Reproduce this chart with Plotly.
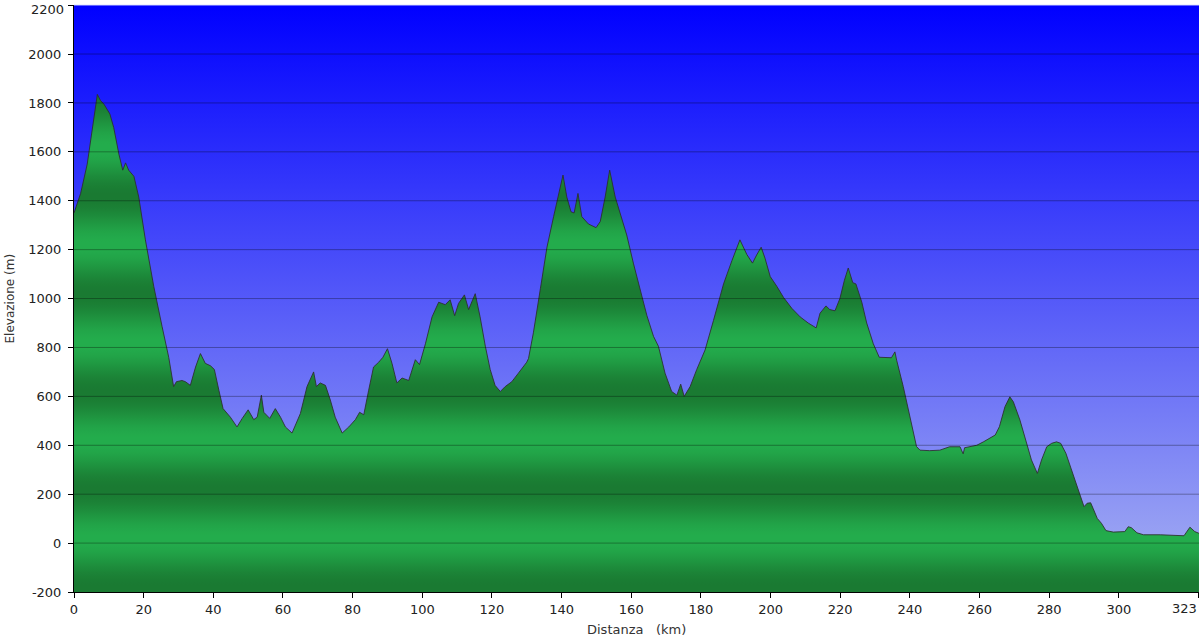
import base64
import math
import plotly.graph_objects as go

# ---- data ----
distance_km = [0.0, 1.9, 3.8, 5.2, 6.7, 7.6, 8.6, 10.3, 11.4, 12.9, 14.0, 14.8, 15.7, 17.2, 18.6,
               20.5, 22.9, 25.3, 27.2, 28.6, 29.4, 31.0, 32.0, 33.4, 34.9, 36.3, 37.7, 39.2, 40.3,
               41.6, 42.8, 44.9, 46.8, 48.3, 50.0, 51.6, 52.6, 53.8, 54.5, 56.2, 57.8, 59.3, 60.7,
               62.6, 64.0, 65.0, 66.9, 68.8, 69.6, 70.7, 72.2, 73.6, 75.0, 77.0, 78.9, 80.8, 82.0,
               83.2, 84.6, 86.0, 87.5, 88.7, 90.0, 91.3, 92.7, 94.2, 96.1, 98.0, 99.2, 100.9, 102.8,
               104.7, 106.6, 108.0, 109.3, 110.4, 112.1, 113.3, 115.2, 116.6, 118.1, 119.5, 120.9,
               122.4, 123.8, 125.7, 127.6, 130.0, 130.5, 131.9, 133.9, 135.8, 137.7, 140.4, 141.5,
               142.7, 143.6, 144.7, 145.8, 147.7, 149.9, 151.1, 152.5, 153.8, 155.4, 156.8, 158.7,
               160.6, 162.6, 164.5, 166.4, 167.8, 169.7, 171.6, 173.1, 174.2, 175.2, 176.9, 178.8,
               181.2, 183.6, 186.5, 188.9, 191.2, 193.2, 194.8, 196.0, 197.3, 198.4, 199.9, 201.8,
               203.7, 206.1, 208.5, 210.8, 213.1, 214.2, 215.9, 217.0, 218.5, 219.9, 221.2, 222.3,
               223.6, 224.5, 226.2, 227.6, 229.5, 231.2, 233.3, 234.7, 235.7, 236.2, 238.1, 240.0,
               241.9, 242.9, 245.7, 248.6, 251.4, 254.4, 255.3, 255.7, 257.3, 259.2, 261.1, 263.0,
               264.5, 265.7, 267.3, 268.7, 269.7, 271.6, 273.5, 274.9, 276.6, 277.8, 279.3, 280.7,
               282.1, 283.3, 284.8, 286.4, 288.3, 290.0, 290.9, 291.9, 292.6, 293.8, 295.0, 296.3,
               298.4, 301.7, 302.7, 303.6, 305.2, 307.1, 311.9, 315.7, 318.7, 320.4, 321.8, 323.0]

elevation_m = [1350, 1430, 1550, 1690, 1835, 1810, 1795, 1755, 1700, 1590, 1525, 1555, 1525, 1500, 1415,
               1240, 1050, 885, 760, 640, 660, 665, 660, 645, 720, 775, 735, 725, 710,
               625, 550, 515, 475, 510, 545, 505, 515, 605, 535, 510, 550, 515, 475,
               450, 500, 530, 640, 700, 640, 655, 645, 585, 515, 450, 475, 505, 535,
               525, 625, 720, 740, 760, 795, 735, 655, 675, 665, 750, 730, 815, 925,
               985, 975, 995, 930, 980, 1015, 955, 1020, 925, 805, 710, 645,
               620, 640, 660, 695, 740, 755, 860, 1040, 1210, 1335, 1505, 1415,
               1355, 1350, 1430, 1335, 1305, 1290, 1315, 1415, 1525, 1415, 1350, 1260,
               1145, 1035, 930, 845, 805, 695, 620, 605, 650, 600, 640, 710,
               790, 910, 1060, 1155, 1240, 1180, 1145, 1178, 1210, 1165, 1090, 1050,
               1005, 960, 925, 900, 880, 940, 970, 955, 950, 1000, 1075, 1125,
               1065, 1060, 985, 900, 815, 760, 760, 758, 782, 748, 640, 515,
               395, 380, 378, 380, 394, 394, 365, 390, 394, 400, 414, 428,
               442, 476, 558, 598, 578, 503, 408, 340, 285, 340, 394, 408,
               414, 408, 367, 299, 217, 149, 163, 165, 142, 101, 81, 51,
               45, 47, 67, 63, 42, 34, 34, 32, 30, 65, 47, 40]

x_tick_values = [0, 20, 40, 60, 80, 100, 120, 140, 160, 180, 200, 220, 240, 260, 280, 300]
x_end_label = "323"
y_tick_values = [-200, 0, 200, 400, 600, 800, 1000, 1200, 1400, 1600, 1800, 2000, 2200]

X_MIN, X_MAX = 0, 323
Y_MIN, Y_MAX = -200, 2200

# ---- styles ----
FONT = "DejaVu Sans"
LIGHT_GREEN = (35, 172, 76)
DARK_GREEN = (26, 122, 50)
BAND_PERIOD = 400.0
BAND_LIGHT_AT = 20.0

def green_at(e):
    f = (1 - math.cos(2 * math.pi * (e - BAND_LIGHT_AT) / BAND_PERIOD)) / 2
    c = [round(LIGHT_GREEN[i] + (DARK_GREEN[i] - LIGHT_GREEN[i]) * f) for i in range(3)]
    return f"rgb({c[0]},{c[1]},{c[2]})"

n_steps = 240
green_scale = []
for i in range(n_steps + 1):
    e = Y_MIN + (Y_MAX - Y_MIN) * i / n_steps
    green_scale.append([i / n_steps, green_at(e)])

svg = ('<svg xmlns="http://www.w3.org/2000/svg" width="10" height="100" preserveAspectRatio="none">'
       '<defs><linearGradient id="g" x1="0" y1="0" x2="0" y2="1">'
       '<stop offset="0" stop-color="#0000ff"/>'
       '<stop offset="1" stop-color="rgb(168,178,242)"/>'
       '</linearGradient></defs><rect width="10" height="100" fill="url(#g)"/></svg>')
bg_src = "data:image/svg+xml;base64," + base64.b64encode(svg.encode()).decode()

fig = go.Figure()
fig.add_trace(go.Scatter(
    x=distance_km, y=[Y_MIN] * len(distance_km), mode="lines",
    line=dict(width=0, color="rgba(0,0,0,0)"), hoverinfo="skip", showlegend=False))
fig.add_trace(go.Scatter(
    x=distance_km, y=elevation_m, mode="lines", fill="tonexty",
    line=dict(color="rgba(45,45,45,0.85)", width=1),
    fillgradient=dict(type="vertical", colorscale=green_scale, start=Y_MIN, stop=Y_MAX),
    showlegend=False, name="Elevazione"))

shapes = [dict(type="line", xref="paper", x0=0, x1=1, yref="y", y0=v, y1=v,
               line=dict(color="rgba(0,0,0,0.32)", width=1), layer="above")
          for v in y_tick_values if Y_MIN < v < Y_MAX]
shapes.append(dict(type="line", xref="paper", x0=0, x1=1, yref="paper", y0=1, y1=1,
                   line=dict(color="rgba(220,225,255,0.9)", width=1), layer="above"))

TICK_LEN = 5
LABEL_GAP = 4
y_tick_text = [str(v) if v != Y_MAX else "" for v in y_tick_values]

ML, MR, MT, MB = 74, 1, 5, 47
fig.update_layout(
    width=1200, height=639,
    margin=dict(l=ML, r=MR, t=MT, b=MB, autoexpand=False),
    paper_bgcolor="white", plot_bgcolor="#5560f8",
    font=dict(family=FONT, size=13, color="#222222"),
    images=[dict(source=bg_src, xref="paper", yref="paper", x=0, y=1, sizex=1, sizey=1,
                 sizing="stretch", layer="below", xanchor="left", yanchor="top")],
    shapes=shapes,
    xaxis=dict(range=[X_MIN, X_MAX + 0.01], tickvals=x_tick_values + [X_MAX],
               ticktext=[str(v) for v in x_tick_values] + [""],
               ticks="outside", ticklen=TICK_LEN, tickcolor="black", showline=True,
               linecolor="black", linewidth=1, showgrid=False, zeroline=False,
               fixedrange=True, ticklabeloverflow="allow", automargin=False),
    yaxis=dict(range=[Y_MIN, Y_MAX + 0.5], tickvals=y_tick_values, ticktext=y_tick_text,
               ticks="outside", ticklen=TICK_LEN, tickcolor="black", showline=True,
               linecolor="black", linewidth=1, showgrid=False, zeroline=False,
               ticklabelstandoff=LABEL_GAP, fixedrange=True, ticklabeloverflow="allow",
               automargin=False),
    annotations=[
        dict(text=str(Y_MAX), xref="paper", yref="paper", x=0, y=1, xanchor="right",
             yanchor="top", xshift=-(TICK_LEN + LABEL_GAP - 1), yshift=5, showarrow=False,
             font=dict(size=13, color="#222222")),
        dict(text=x_end_label, xref="x", yref="paper", x=X_MAX, y=0, xanchor="right",
             yanchor="top", yshift=-7, showarrow=False, font=dict(size=13, color="#222222")),
        dict(text="Elevazione (m)", xref="paper", yref="paper", x=0, y=0.5, xshift=-(ML - 9),
             xanchor="center", yanchor="middle",
             textangle=-90, showarrow=False, font=dict(size=12, color="#333333")),
        dict(text="Distanza\u00a0\u00a0\u00a0(km)", xref="paper", yref="paper", x=0.5, y=0,
             yshift=-37, xanchor="center", yanchor="middle", showarrow=False,
             font=dict(size=13, color="#333333")),
    ],
)

fig.write_html("out.html", config={"displayModeBar": False},
               post_script="document.body.style.margin='0';document.body.style.padding='0';"
                           "document.body.style.overflow='hidden';")
